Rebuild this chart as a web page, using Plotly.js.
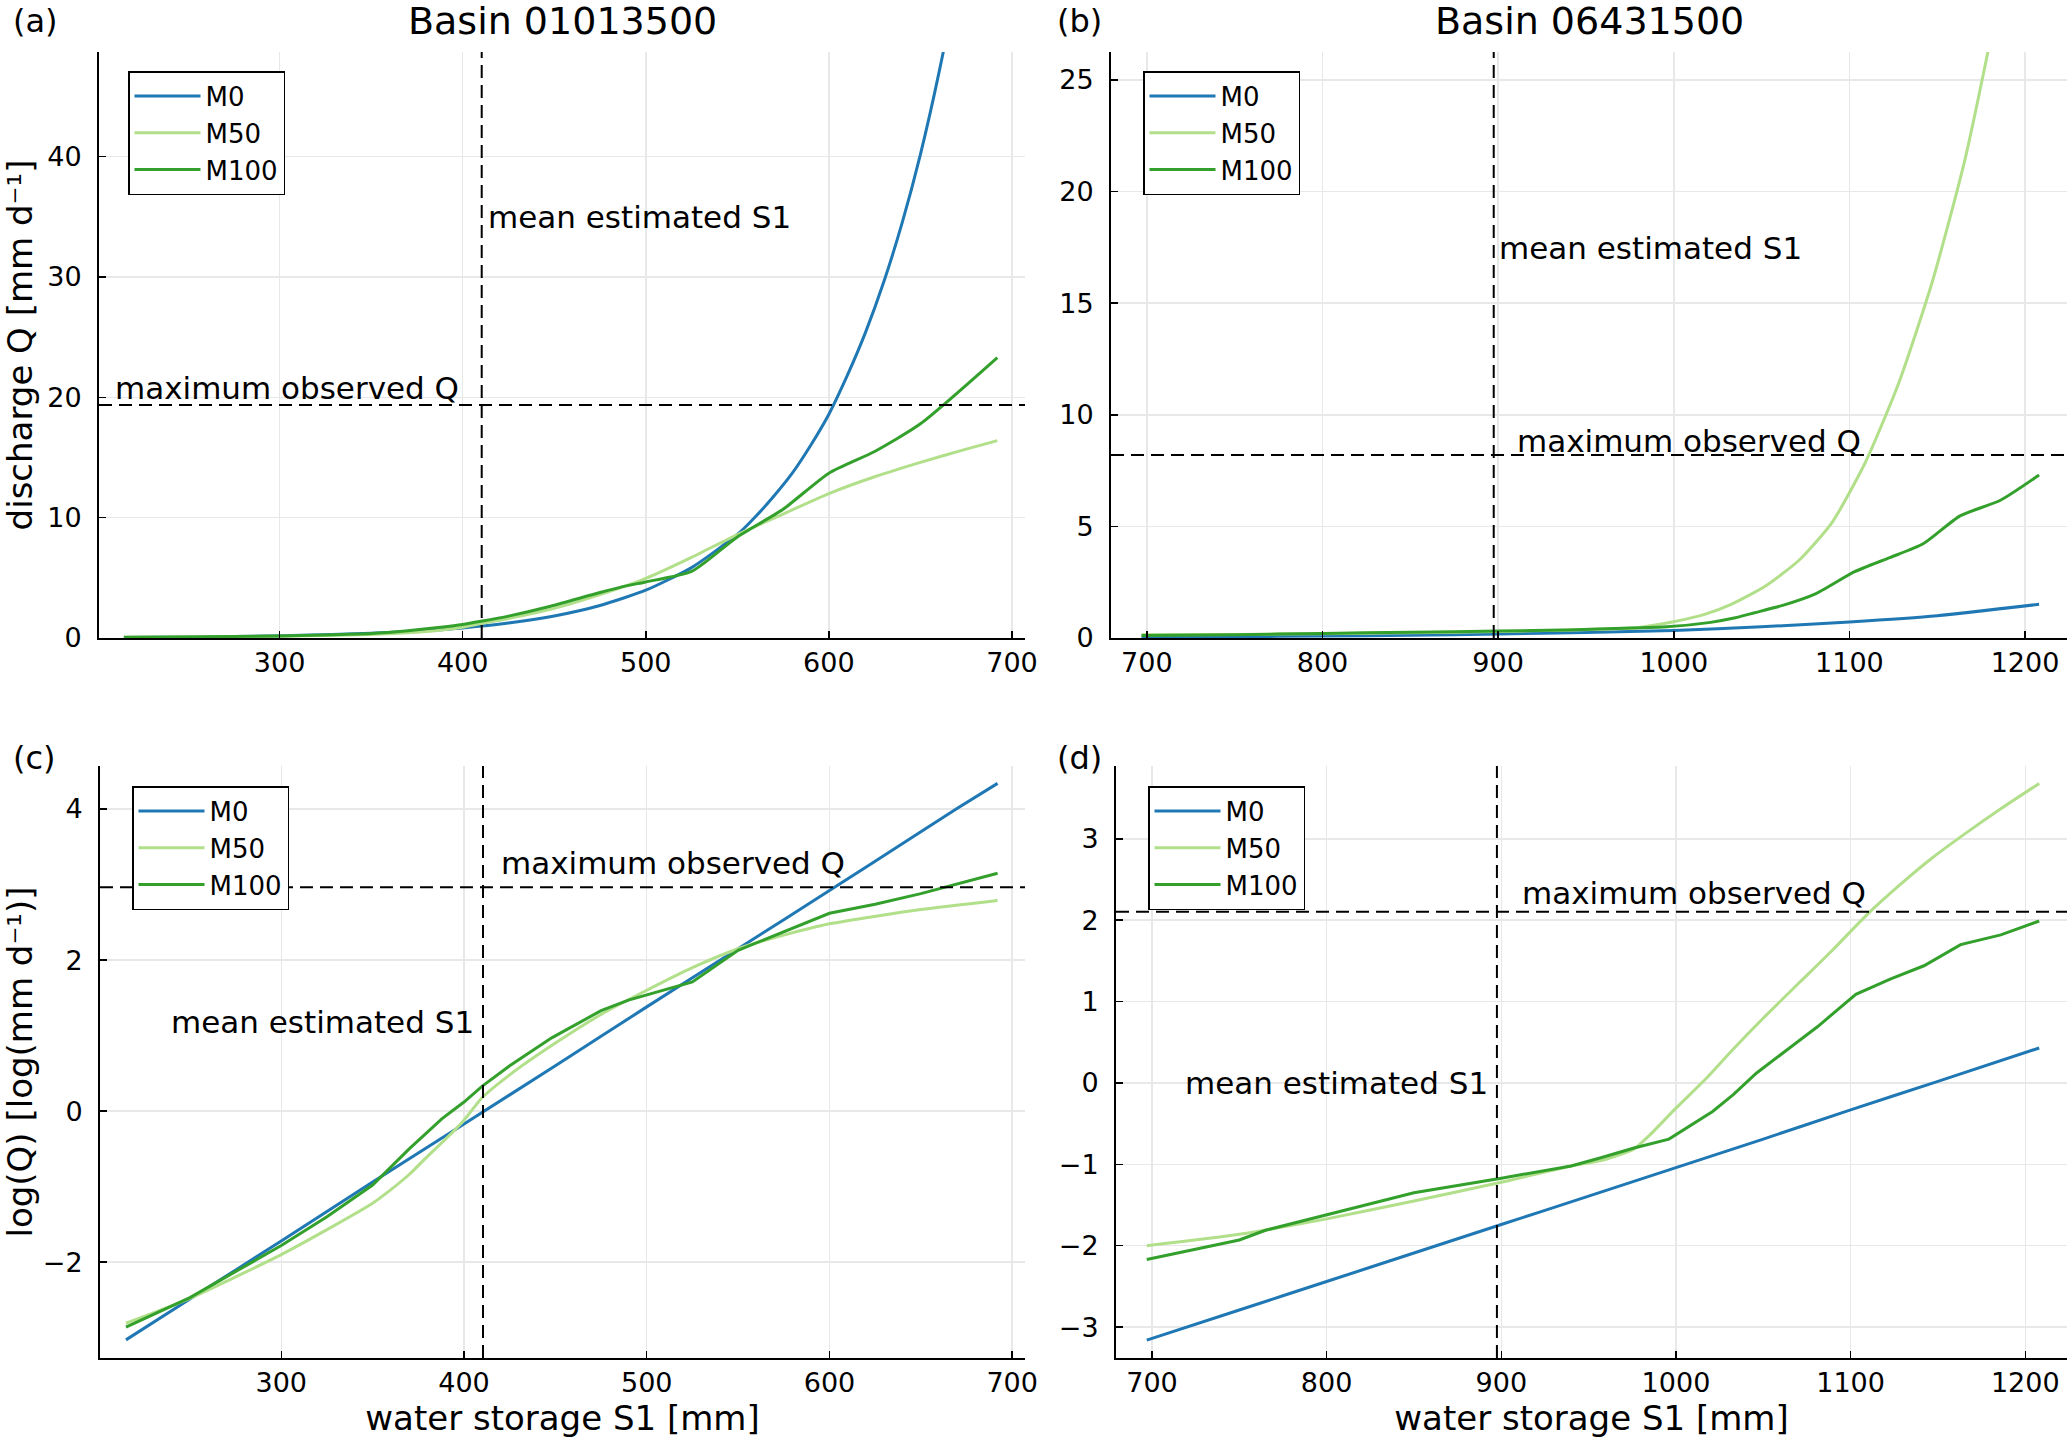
<!DOCTYPE html>
<html>
<head>
<meta charset="utf-8">
<script src="https://cdn.plot.ly/plotly-3.0.1.min.js"></script>
<style>html,body{margin:0;padding:0;background:#fff}#plot{width:2067px;height:1438px}</style>
</head>
<body>
<div id="plot"></div>
<script>
// ---------- Panel (a): Basin 01013500, discharge Q ----------
const a_M0_S   = [215, 250, 300, 350, 375, 400, 425, 450, 475, 500, 525, 550, 560, 570, 580, 590, 600, 610, 620, 630, 640, 650, 660, 670, 692];
const a_M0_Q   = [0.05, 0.08, 0.18, 0.39, 0.57, 0.84, 1.24, 1.83, 2.7, 3.97, 5.85, 8.6, 10.1, 11.8, 13.7, 16.0, 18.6, 21.8, 25.4, 29.6, 34.5, 40.2, 46.9, 54.7, 77];
const a_M50_S  = [215, 250, 300, 325, 350, 360, 370, 380, 390, 400, 410, 425, 450, 475, 500, 525, 550, 575, 600, 625, 650, 675, 692];
const a_M50_Q  = [0.06, 0.08, 0.15, 0.21, 0.30, 0.35, 0.43, 0.55, 0.69, 0.89, 1.20, 1.62, 2.46, 3.6, 4.95, 6.7, 8.6, 10.3, 12.0, 13.4, 14.6, 15.7, 16.4];
const a_M100_S = [215, 250, 300, 325, 350, 370, 388, 400, 410, 425, 448, 475, 490, 500, 525, 550, 575, 600, 625, 650, 692];
const a_M100_Q = [0.06, 0.09, 0.17, 0.25, 0.375, 0.61, 0.90, 1.13, 1.39, 1.82, 2.64, 3.78, 4.35, 4.66, 5.53, 8.4, 10.7, 13.7, 15.5, 17.8, 23.3];

// ---------- Panel (b): Basin 06431500, discharge Q ----------
const b_M0_S   = [697, 750, 800, 850, 900, 950, 1000, 1050, 1100, 1150, 1208];
const b_M0_Q   = [0.04, 0.06, 0.09, 0.12, 0.18, 0.25, 0.34, 0.50, 0.72, 1.0, 1.51];
const b_M50_S  = [697, 750, 800, 850, 900, 940, 957, 976, 985, 1000, 1018, 1033, 1052, 1071, 1090, 1109, 1128, 1147, 1166, 1186, 1208];
const b_M50_Q  = [0.14, 0.16, 0.19, 0.23, 0.29, 0.36, 0.39, 0.445, 0.53, 0.73, 1.07, 1.52, 2.32, 3.46, 5.16, 7.85, 11.4, 15.9, 21.5, 29.1, 39.6];
const b_M100_S = [697, 750, 800, 850, 900, 940, 957, 976, 996, 1021, 1033, 1046, 1062, 1081, 1103, 1123, 1142, 1163, 1186, 1208];
const b_M100_Q = [0.11, 0.15, 0.20, 0.26, 0.31, 0.36, 0.40, 0.45, 0.50, 0.70, 0.87, 1.13, 1.46, 1.99, 2.97, 3.6, 4.22, 5.47, 6.17, 7.3];

// ---------- Panel (c): Basin 01013500, log(Q) ----------
const c_M0_S   = [215, 250, 300, 350, 400, 450, 500, 550, 600, 650, 670, 692];
const c_M0_L   = [-3.03, -2.49, -1.72, -0.94, -0.17, 0.60, 1.38, 2.15, 2.92, 3.70, 4.01, 4.34];
const c_M50_S  = [215, 250, 300, 325, 350, 360, 370, 380, 390, 400, 410, 425, 450, 475, 500, 525, 550, 575, 600, 650, 692];
const c_M50_L  = [-2.81, -2.48, -1.90, -1.57, -1.22, -1.04, -0.84, -0.60, -0.37, -0.12, 0.18, 0.48, 0.90, 1.28, 1.60, 1.90, 2.15, 2.33, 2.48, 2.67, 2.79];
const c_M100_S = [215, 250, 300, 325, 350, 370, 388, 400, 410, 425, 448, 475, 490, 500, 525, 550, 575, 600, 625, 650, 692];
const c_M100_L = [-2.86, -2.47, -1.78, -1.40, -0.98, -0.50, -0.10, 0.12, 0.33, 0.60, 0.97, 1.33, 1.47, 1.54, 1.71, 2.13, 2.37, 2.62, 2.74, 2.88, 3.15];

// ---------- Panel (d): Basin 06431500, log(Q) ----------
const d_M0_S   = [697, 750, 800, 850, 900, 950, 1000, 1050, 1100, 1150, 1208];
const d_M0_L   = [-3.16, -2.79, -2.44, -2.09, -1.74, -1.39, -1.04, -0.69, -0.33, 0.02, 0.43];
const d_M50_S  = [697, 750, 800, 850, 900, 940, 957, 976, 985, 1000, 1018, 1033, 1052, 1071, 1090, 1109, 1128, 1147, 1166, 1186, 1208];
const d_M50_L  = [-2.00, -1.86, -1.67, -1.45, -1.22, -1.02, -0.955, -0.81, -0.64, -0.31, 0.07, 0.42, 0.84, 1.24, 1.64, 2.06, 2.43, 2.77, 3.07, 3.37, 3.68];
const d_M100_S = [697, 750, 765, 800, 850, 900, 940, 957, 976, 996, 1021, 1033, 1046, 1062, 1081, 1103, 1123, 1142, 1163, 1186, 1208];
const d_M100_L = [-2.17, -1.93, -1.81, -1.62, -1.35, -1.17, -1.02, -0.92, -0.80, -0.69, -0.35, -0.14, 0.12, 0.38, 0.69, 1.09, 1.28, 1.44, 1.70, 1.82, 1.99];

// reference lines
const meanS1   = [410.4, 897.5];     // basin 01013500, basin 06431500
const maxQ     = [19.36, 8.2];
const maxLogQ  = [2.963, 2.104];

const seriesNames  = ['M0', 'M50', 'M100'];
const seriesColors = ['#1f78b4', '#b2df8a', '#33a02c'];
const basinTitles  = ['Basin 01013500', 'Basin 06431500'];
const panelLabels  = ['(a)', '(b)', '(c)', '(d)'];

const FONT = 'DejaVu Sans, Verdana, sans-serif';
const W = 2067, H = 1438;

const panels = [
  {xa: 'x',  ya: 'y',  leg: 'legend',  log: false, data: [[a_M0_S, a_M0_Q], [a_M50_S, a_M50_Q], [a_M100_S, a_M100_Q]]},
  {xa: 'x2', ya: 'y2', leg: 'legend2', log: false, data: [[b_M0_S, b_M0_Q], [b_M50_S, b_M50_Q], [b_M100_S, b_M100_Q]]},
  {xa: 'x3', ya: 'y3', leg: 'legend3', log: true,  data: [[c_M0_S, c_M0_L], [c_M50_S, c_M50_L], [c_M100_S, c_M100_L]]},
  {xa: 'x4', ya: 'y4', leg: 'legend4', log: true,  data: [[d_M0_S, d_M0_L], [d_M50_S, d_M50_L], [d_M100_S, d_M100_L]]}
];

const traces = [];
panels.forEach(p => {
  p.data.forEach((d, i) => {
    const lineSpec = {color: seriesColors[i], width: 3};
    if (p.log && i === 2) { lineSpec.shape = 'linear'; }
    else { lineSpec.shape = 'spline'; lineSpec.smoothing = 0.6; }
    traces.push({
      type: 'scatter', mode: 'lines', x: d[0], y: d[1],
      name: seriesNames[i], xaxis: p.xa, yaxis: p.ya, legend: p.leg,
      line: lineSpec, hoverinfo: 'skip'
    });
  });
});

function px2fx(px) { return px / W; }
function px2fy(py) { return 1 - py / H; }

function axisBase(extra) {
  return Object.assign({
    showline: true, linecolor: '#000', linewidth: 2,
    ticks: 'inside', ticklen: 7, tickwidth: 1.5, tickcolor: '#000',
    showgrid: true, gridcolor: '#e8e8e8', gridwidth: 1.5,
    zeroline: false, mirror: false, automargin: false,
    ticklabeloverflow: 'allow',
    tickfont: {family: FONT, size: 27, color: '#000'}
  }, extra);
}

const topY = [px2fy(638), px2fy(52)];
const botY = [px2fy(1358), px2fy(766)];
const axTitleFont = {family: FONT, size: 34, color: '#000'};

const layout = {
  width: W, height: H,
  margin: {l: 0, r: 0, t: 0, b: 0},
  paper_bgcolor: '#fff', plot_bgcolor: '#fff',
  font: {family: FONT, color: '#000'},
  xaxis:  axisBase({domain: [px2fx(99), px2fx(1025)], range: [201.4, 707.1], dtick: 100, tick0: 0, anchor: 'y', ticklabelstandoff: 0}),
  yaxis:  axisBase({domain: topY, range: [0, 48.7], dtick: 10, tick0: 0, anchor: 'x', ticklabelstandoff: 10,
           title: {text: 'discharge Q [mm d⁻¹]', font: axTitleFont, standoff: 22}}),
  xaxis2: axisBase({domain: [px2fx(1111), 1], range: [679.6, 1223.9], dtick: 100, tick0: 0, anchor: 'y2', ticklabelstandoff: 0}),
  yaxis2: axisBase({domain: topY, range: [0, 26.25], dtick: 5, tick0: 0, anchor: 'x2', ticklabelstandoff: 10}),
  xaxis3: axisBase({domain: [px2fx(100), px2fx(1025)], range: [200.8, 707], dtick: 100, tick0: 0, anchor: 'y3', ticklabelstandoff: 0,
           title: {text: 'water storage S1 [mm]', font: axTitleFont, standoff: 8}}),
  yaxis3: axisBase({domain: botY, range: [-3.27, 4.57], dtick: 2, tick0: 0, anchor: 'x3', ticklabelstandoff: 10,
           title: {text: 'log(Q) [log(mm d⁻¹)]', font: axTitleFont, standoff: 20}}),
  xaxis4: axisBase({domain: [px2fx(1116), 1], range: [679.4, 1223.9], dtick: 100, tick0: 0, anchor: 'y4', ticklabelstandoff: 0,
           title: {text: 'water storage S1 [mm]', font: axTitleFont, standoff: 8}}),
  yaxis4: axisBase({domain: botY, range: [-3.38, 3.895], dtick: 1, tick0: 0, anchor: 'x4', ticklabelstandoff: 10}),
  shapes: [],
  annotations: []
};

const legendBase = {
  xanchor: 'left', yanchor: 'top', bgcolor: '#fff', bordercolor: '#000', borderwidth: 1.5,
  font: {family: FONT, size: 26, color: '#000'}, itemwidth: 66, tracegroupgap: 0
};
layout.legend  = Object.assign({}, legendBase, {x: px2fx(128),  y: px2fy(71)});
layout.legend2 = Object.assign({}, legendBase, {x: px2fx(1143), y: px2fy(71)});
layout.legend3 = Object.assign({}, legendBase, {x: px2fx(132),  y: px2fy(786)});
layout.legend4 = Object.assign({}, legendBase, {x: px2fx(1148), y: px2fy(786)});

// dashed reference lines
const dash = {color: '#000', width: 2, dash: '13px,7px'};
const refs = [
  {xa: 'x',  ya: 'y',  vx: meanS1[0], hy: maxQ[0]},
  {xa: 'x2', ya: 'y2', vx: meanS1[1], hy: maxQ[1]},
  {xa: 'x3', ya: 'y3', vx: meanS1[0], hy: maxLogQ[0]},
  {xa: 'x4', ya: 'y4', vx: meanS1[1], hy: maxLogQ[1]}
];
refs.forEach(r => {
  layout.shapes.push({type: 'line', xref: r.xa, yref: r.ya + ' domain', x0: r.vx, x1: r.vx, y0: 0, y1: 1, line: dash});
  layout.shapes.push({type: 'line', xref: r.xa + ' domain', yref: r.ya, x0: 0, x1: 1, y0: r.hy, y1: r.hy, line: dash});
});

// text labels on the reference lines
const annFont = {family: FONT, size: 31, color: '#000'};
const notes = [
  {xref: 'x',  yref: 'y',  x: 209.6, y: 20.8,  text: 'maximum observed Q', xanchor: 'left'},
  {xref: 'x',  yref: 'y',  x: 413.5, y: 35.0,  text: 'mean estimated S1',  xanchor: 'left'},
  {xref: 'x2', yref: 'y2', x: 910,   y: 8.84,  text: 'maximum observed Q', xanchor: 'left'},
  {xref: 'x2', yref: 'y2', x: 900,   y: 17.46, text: 'mean estimated S1',  xanchor: 'left'},
  {xref: 'x3', yref: 'y3', x: 419.7, y: 3.28,  text: 'maximum observed Q', xanchor: 'left'},
  {xref: 'x3', yref: 'y3', x: 406,   y: 1.18,  text: 'mean estimated S1',  xanchor: 'right'},
  {xref: 'x4', yref: 'y4', x: 911,   y: 2.33,  text: 'maximum observed Q', xanchor: 'left'},
  {xref: 'x4', yref: 'y4', x: 893,   y: 0.0,   text: 'mean estimated S1',  xanchor: 'right'}
];
notes.forEach(n => layout.annotations.push(Object.assign({showarrow: false, yanchor: 'middle', font: annFont, borderpad: 0}, n)));

// basin titles
layout.annotations.push({xref: 'paper', yref: 'paper', x: px2fx(562),  y: 1, yshift: 3, text: basinTitles[0], showarrow: false, xanchor: 'center', yanchor: 'top', font: {family: FONT, size: 38, color: '#000'}});
layout.annotations.push({xref: 'paper', yref: 'paper', x: px2fx(1589), y: 1, yshift: 3, text: basinTitles[1], showarrow: false, xanchor: 'center', yanchor: 'top', font: {family: FONT, size: 38, color: '#000'}});

// panel labels
const labelPos = [[11, 21], [1055, 21], [11, 758], [1055, 758]];
panelLabels.forEach((t, i) => {
  layout.annotations.push({xref: 'paper', yref: 'paper', x: px2fx(labelPos[i][0]), y: px2fy(labelPos[i][1]), text: t, showarrow: false, xanchor: 'left', yanchor: 'middle', font: {family: FONT, size: 32, color: '#000'}});
});

Plotly.newPlot('plot', traces, layout, {displayModeBar: false, staticPlot: true});
</script>
</body>
</html>
